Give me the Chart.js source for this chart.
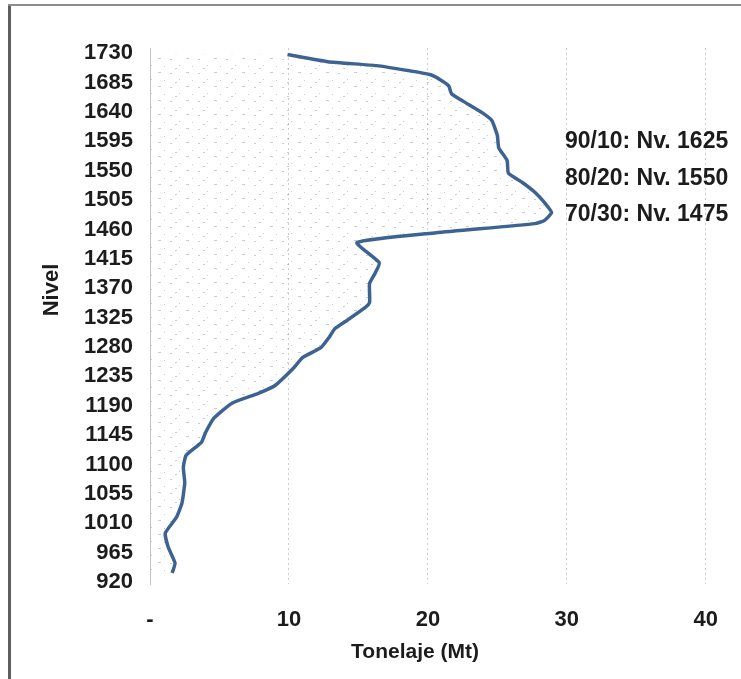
<!DOCTYPE html>
<html>
<head>
<meta charset="utf-8">
<script src="https://cdn.jsdelivr.net/npm/chart.js@4/dist/chart.umd.min.js"></script>
<style>
    html, body { margin: 0; padding: 0; background: #fff; }
    #wrap { position: relative; width: 741px; height: 679px; }
    #wrap canvas { position: absolute; left: 0; top: 0; }
    .edge { position: absolute; }
</style>
</head>
<body>
<div id="wrap">
    <canvas id="chart" width="741" height="679"></canvas>
    <div class="edge" style="left:8px;top:4px;width:3px;height:675px;background:#5e5e5e"></div>
    <div class="edge" style="left:8px;top:4px;width:733px;height:2px;background:#8c8c8c"></div>
</div>
<script>
'use strict';

// Nivel (m) y tonelaje (Mt)
const levels = [1728, 1717, 1711, 1703, 1697, 1688, 1680, 1668, 1657, 1639, 1627, 1604, 1585, 1566, 1546, 1532, 1517, 1501, 1486, 1474, 1469, 1455, 1440, 1409, 1393, 1377, 1348, 1339, 1321, 1308, 1295, 1279, 1264, 1247, 1221, 1209, 1194, 1171, 1149, 1134, 1114, 1096, 1072, 1041, 1019, 995, 974, 949, 934];
const tonnage = [9.9, 12.8, 16.3, 18.7, 20.2, 21.0, 21.5, 21.7, 22.5, 23.9, 24.6, 25.0, 25.1, 25.7, 25.8, 26.8, 27.7, 28.4, 28.9, 28.4, 27.7, 20.6, 14.9, 16.5, 16.2, 15.8, 15.8, 15.4, 14.2, 13.3, 12.9, 12.3, 11.0, 10.3, 9.0, 7.8, 5.9, 4.6, 4.0, 3.7, 2.6, 2.4, 2.5, 2.3, 1.9, 1.1, 1.3, 1.8, 1.6];

const levelTicks = [1730, 1685, 1640, 1595, 1550, 1505, 1460, 1415, 1370, 1325, 1280, 1235, 1190, 1145, 1100, 1055, 1010, 965, 920];
const tonnageTicks = [0, 10, 20, 30, 40];
const tonnageTickLabels = ['-', '10', '20', '30', '40'];

const annotations = ['90/10: Nv. 1625', '80/20: Nv. 1550', '70/30: Nv. 1475'];

const FONT = '"Liberation Sans", Arial, sans-serif';
const ink = '#1c1c1c';

const canvas = document.getElementById('chart');
const ctx = canvas.getContext('2d');

// textura punteada del area bajo la curva
function dotPattern() {
    const c = document.createElement('canvas');
    c.width = 28; c.height = 14;
    const g = c.getContext('2d');
    g.fillStyle = 'rgba(110,110,110,0.35)';
    [[2, 3, 2, 1], [11, 9, 1, 1], [18, 2, 3, 1], [24, 10, 1, 1], [7, 12, 2, 1]]
        .forEach(([x, y, w, h]) => g.fillRect(x, y, w, h));
    return ctx.createPattern(c, 'repeat');
}

const textLayer = {
    id: 'textLayer',
    afterDraw(chart) {
        const c = chart.ctx;
        c.save();
        c.fillStyle = ink;
        c.textBaseline = 'middle';

        c.font = `bold 22px ${FONT}`;
        c.save();
        c.translate(52, 290);
        c.rotate(-Math.PI / 2);
        c.textAlign = 'center';
        c.fillText('Nivel', 0, 0);
        c.restore();

        c.textAlign = 'center';
        c.font = `bold 21px ${FONT}`;
        c.fillText('Tonelaje (Mt)', 415, 652);

        c.textAlign = 'left';
        c.font = `bold 23px ${FONT}`;
        const ys = [142, 179, 215];
        annotations.forEach((t, i) => c.fillText(t, 565, ys[i]));
        c.restore();
    }
};

new Chart(ctx, {
    type: 'line',
    data: {
        datasets: [{
            data: levels.map((l, i) => ({ x: tonnage[i], y: l })),
            borderColor: '#3d6393',
            borderWidth: 3.5,
            pointRadius: 0,
            tension: 0.15,
            fill: 'origin',
            backgroundColor: dotPattern()
        }]
    },
    options: {
        indexAxis: 'y',
        responsive: false,
        animation: false,
        layout: { padding: { top: 48, right: 28, left: 0, bottom: 0 } },
        plugins: { legend: { display: false }, tooltip: { enabled: false } },
        scales: {
            x: {
                type: 'linear', min: 0, max: 40,
                afterBuildTicks: (s) => { s.ticks = tonnageTicks.map(v => ({ value: v })); },
                afterFit: (s) => { s.height = 95; },
                grid: { color: '#cdcdcd', lineWidth: 1, drawTicks: false },
                border: { display: false, dash: [2, 3] },
                ticks: {
                    color: ink, padding: 23, maxRotation: 0,
                    font: { family: FONT, size: 22, weight: 'bold' },
                    callback: (v) => tonnageTickLabels[tonnageTicks.indexOf(v)]
                }
            },
            y: {
                type: 'linear', min: 917, max: 1738,
                afterBuildTicks: (s) => { s.ticks = levelTicks.map(v => ({ value: v })); },
                afterFit: (s) => { s.width = 150; },
                grid: { display: false, drawTicks: false },
                border: { display: true, color: '#c4c4c4', width: 1 },
                ticks: {
                    color: ink, padding: 17, autoSkip: false,
                    font: { family: FONT, size: 22, weight: 'bold' },
                    callback: (v) => String(v)
                }
            }
        }
    },
    plugins: [textLayer]
});
</script>
</body>
</html>
